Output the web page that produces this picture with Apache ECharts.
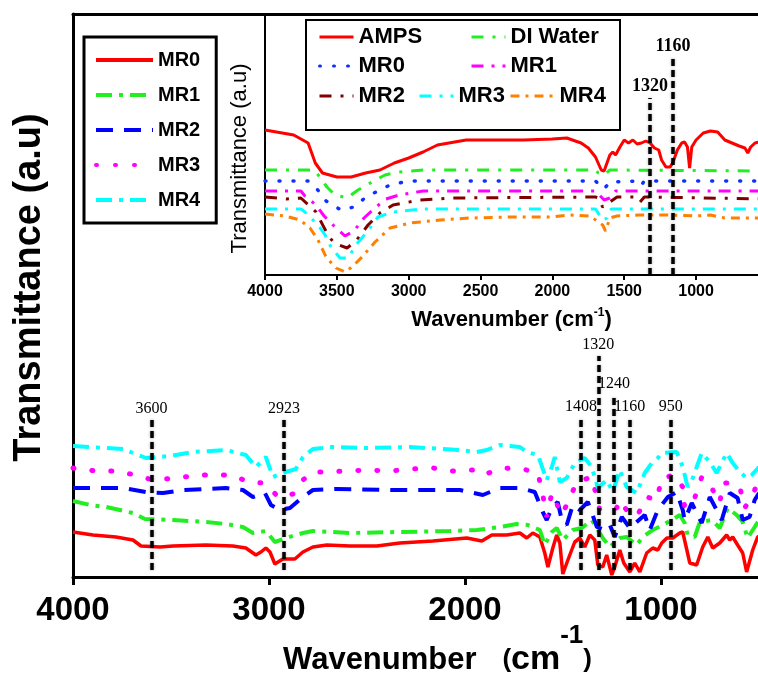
<!DOCTYPE html>
<html><head><meta charset="utf-8">
<script src="https://cdn.jsdelivr.net/npm/echarts@6/dist/echarts.min.js"></script>
<style>html,body{margin:0;padding:0;background:#fff}#c{width:758px;height:677px}</style>
</head><body><div id="c"></div>
<script>
// ---------- DATA (wavenumber cm-1, transmittance a.u.) ----------
const mainNames = ['MR0','MR1','MR2','MR3','MR4'];
const mainMR0 = [[4000,4.5],[3898,4.2],[3781,4.0],[3694,3.7],[3653,3.1],[3556,3.0],[3490,3.1],[3322,3.2],[3184,3.1],[3118,2.9],[3067,2.2],[3041,2.5],[3016,2.9],[2995,2.5],[2970,1.3],[2929,1.8],[2868,1.8],[2827,2.5],[2776,3.0],[2705,3.2],[2587,3.1],[2450,3.1],[2332,3.4],[2164,3.6],[1991,3.9],[1914,3.6],[1863,4.2],[1787,4.2],[1720,4.4],[1685,3.9],[1654,4.4],[1618,4.0],[1593,2.4],[1577,1.0],[1552,2.9],[1532,4.2],[1516,3.4],[1501,0.3],[1475,1.7],[1440,3.5],[1414,3.9],[1389,3.0],[1363,4.2],[1338,3.7],[1322,1.2],[1297,1.0],[1277,2.2],[1251,0.2],[1236,1.0],[1210,2.7],[1190,1.4],[1159,0.5],[1134,1.4],[1108,0.5],[1073,2.4],[1042,2.9],[1016,2.7],[996,3.4],[970,3.9],[940,3.9],[904,4.4],[889,4.5],[868,2.7],[853,1.4],[818,1.2],[787,3.0],[761,4.0],[736,2.9],[700,3.4],[665,4.2],[649,3.7],[634,4.0],[609,3.2],[583,2.4],[563,0.5],[532,2.7],[507,4.0],[480,4.2]];
const mainMR1 = [[4000,7.6],[3913,7.2],[3831,7.0],[3694,6.4],[3633,5.8],[3490,5.7],[3322,5.5],[3220,5.3],[3133,5.0],[3082,4.4],[3016,4.6],[2970,3.5],[2914,3.9],[2827,4.4],[2776,4.6],[2587,4.4],[2332,4.5],[2077,4.6],[1940,4.7],[1822,5.0],[1736,5.3],[1679,5.2],[1618,4.7],[1593,3.2],[1557,4.5],[1532,4.9],[1501,3.7],[1450,4.7],[1404,4.9],[1353,5.7],[1322,4.7],[1297,3.9],[1261,3.0],[1210,3.9],[1175,4.0],[1124,3.2],[1093,4.0],[1042,4.7],[991,5.2],[946,5.7],[904,6.2],[879,5.4],[864,4.2],[828,4.0],[802,5.5],[741,5.7],[700,4.9],[659,6.9],[614,6.2],[583,5.5],[558,3.9],[522,5.0],[500,5.7]];
const mainMR2 = [[4000,8.9],[3745,8.9],[3628,8.5],[3541,8.4],[3439,8.7],[3220,8.9],[3133,8.7],[3082,8.0],[3021,8.4],[2990,7.2],[2944,6.7],[2893,6.9],[2827,8.0],[2776,8.7],[2654,8.8],[2368,8.7],[2026,8.7],[1909,8.2],[1822,8.9],[1720,8.9],[1644,8.5],[1603,6.5],[1583,5.7],[1557,6.9],[1527,7.5],[1506,5.7],[1481,5.2],[1450,7.2],[1414,6.7],[1373,7.5],[1327,5.0],[1287,4.7],[1261,5.2],[1236,4.0],[1200,6.0],[1159,4.9],[1124,5.5],[1083,6.2],[1057,4.7],[1016,6.7],[965,8.0],[920,8.5],[889,6.7],[879,5.7],[843,7.4],[818,6.4],[792,5.4],[751,8.0],[716,6.7],[690,5.7],[649,8.4],[609,7.9],[583,5.7],[548,6.0],[522,7.7],[500,8.4]];
const mainMR3 = [[4000,10.9],[3882,10.6],[3781,10.6],[3684,10.2],[3592,9.7],[3475,9.9],[3352,10.2],[3184,10.2],[3108,9.5],[3031,9.4],[2990,8.8],[2955,8.0],[2878,8.3],[2827,9.7],[2776,10.5],[2725,10.5],[2603,10.6],[2501,10.7],[2383,10.6],[2271,10.8],[2164,10.9],[2062,10.6],[1960,10.7],[1909,10.2],[1807,10.9],[1705,10.8],[1628,10.4],[1603,8.2],[1583,6.0],[1557,8.4],[1506,6.2],[1465,7.9],[1430,9.5],[1353,10.0],[1312,6.7],[1271,6.9],[1226,6.9],[1210,7.7],[1159,6.2],[1119,6.2],[1073,8.0],[1022,7.7],[996,9.9],[930,10.2],[889,9.0],[879,6.9],[828,7.9],[792,10.0],[741,8.9],[700,7.4],[685,9.4],[644,9.4],[598,9.0],[573,6.9],[548,7.7],[522,8.7],[500,9.7]];
const mainMR4 = [[4000,13.1],[3831,12.9],[3745,12.8],[3628,11.9],[3505,12.1],[3388,12.5],[3220,12.7],[3118,12.2],[3067,11.0],[3016,12.0],[2980,10.0],[2914,10.5],[2863,10.8],[2827,12.0],[2776,12.8],[2674,13.0],[2501,12.9],[2281,13.0],[2026,12.7],[1940,12.5],[1889,12.7],[1822,13.2],[1720,13.0],[1685,12.5],[1628,12.2],[1583,9.7],[1557,11.0],[1542,12.0],[1516,9.5],[1481,9.9],[1440,11.4],[1389,11.9],[1353,11.0],[1322,8.9],[1277,9.7],[1246,8.5],[1210,10.7],[1175,9.0],[1124,8.4],[1083,10.4],[1047,11.4],[1016,11.9],[996,12.4],[920,12.5],[889,11.0],[864,9.0],[838,9.9],[792,12.4],[751,11.5],[716,10.4],[665,12.4],[634,11.4],[598,10.5],[563,9.9],[537,10.2],[500,11.0]];

const insetNames = ['AMPS','DI Water','MR0','MR1','MR2','MR3','MR4'];
const inAMPS = [[4000,14.5],[3800,14.0],[3700,13.2],[3650,11.2],[3600,10.2],[3500,9.8],[3400,9.8],[3300,10.2],[3200,10.5],[3100,11.2],[3000,11.7],[2900,12.3],[2800,13.0],[2600,13.5],[2400,13.5],[2200,13.5],[2000,13.6],[1900,13.7],[1800,13.2],[1750,12.7],[1700,11.8],[1660,10.5],[1640,10.4],[1600,12.0],[1580,12.3],[1560,12.0],[1530,12.8],[1500,13.5],[1470,13.2],[1440,13.5],[1410,13.1],[1380,13.2],[1350,13.4],[1320,13.2],[1290,12.7],[1260,12.5],[1240,11.5],[1210,10.8],[1180,10.8],[1160,11.3],[1130,12.5],[1100,13.2],[1080,13.3],[1060,12.8],[1045,10.7],[1030,12.8],[1000,13.5],[950,14.2],[900,14.4],[850,14.3],[800,13.5],[750,13.2],[700,12.9],[660,12.7],[640,12.2],[620,12.8],[590,13.2],[560,13.3],[500,13.3]];
const inWater = [[4000,10.5],[3700,10.5],[3650,10.4],[3569,8.8],[3513,8.0],[3429,7.7],[3353,8.5],[3255,9.3],[3165,10.0],[3074,10.3],[2900,10.5],[1700,10.5],[1680,10.2],[1640,10.0],[1600,10.5],[500,10.4]];
const inMR0 = [[4000,9.4],[3700,9.4],[3638,8.6],[3575,7.4],[3471,6.5],[3381,6.8],[3297,7.8],[3214,8.4],[3130,9.0],[3000,9.4],[1700,9.4],[1640,8.6],[1600,9.3],[1400,9.4],[1380,9.0],[1360,9.4],[500,9.4]];
const inMR1 = [[4000,8.4],[3750,8.4],[3722,7.9],[3645,7.0],[3589,5.9],[3527,5.0],[3443,3.9],[3381,4.4],[3311,5.7],[3227,6.8],[3158,7.6],[3067,8.0],[2900,8.4],[1700,8.4],[1640,7.5],[1600,7.7],[1560,8.4],[500,8.4]];
const inMR2 = [[4000,7.8],[3850,7.6],[3750,7.7],[3645,6.3],[3562,4.0],[3520,3.2],[3429,2.7],[3367,3.4],[3283,5.0],[3200,6.2],[3109,7.0],[2921,7.5],[2700,7.7],[1700,7.8],[1680,7.7],[1650,6.8],[1610,7.2],[1580,7.5],[1550,7.8],[1420,7.8],[1390,7.3],[1360,7.8],[500,7.6]];
const inMR3 = [[4000,6.6],[3750,6.6],[3722,6.3],[3631,5.0],[3582,4.0],[3541,2.8],[3478,1.7],[3422,1.7],[3367,3.0],[3297,4.2],[3214,5.8],[3109,6.3],[2900,6.6],[1700,6.6],[1650,5.5],[1620,5.7],[1590,6.6],[500,6.6]];
const inMR4 = [[4000,6.1],[3861,5.9],[3756,5.5],[3687,4.7],[3631,3.5],[3575,1.8],[3506,0.7],[3443,0.3],[3394,0.8],[3325,1.8],[3234,3.3],[3130,4.7],[2991,5.2],[2782,5.5],[2573,5.7],[2295,5.8],[2016,5.8],[1877,6.0],[1738,5.9],[1650,5.0],[1630,4.4],[1600,5.7],[1550,5.9],[1400,6.0],[1200,6.0],[1000,5.9],[900,6.0],[800,5.7],[500,5.7]];

const mainPeaks = [3600, 2923, 1408, 1320, 1240, 1160, 950];
const insetPeaks = [1320, 1160];
const mainTicks = [4000, 3000, 2000, 1000];
const insetTicks = [4000, 3500, 3000, 2500, 2000, 1500, 1000];

// ---------- STYLE ----------
const mainData = [mainMR0, mainMR1, mainMR2, mainMR3, mainMR4];
const mainStyle = [
  {color:'#ff0000', type:'solid', width:3.5},
  {color:'#22ee22', type:[16,7,4,7], width:4},
  {color:'#0000ff', type:[17,11], width:4},
  {color:'#ff00ff', type:[1,18], width:5, cap:'round'},
  {color:'#00ffff', type:[16,7,4,7], width:4}
];
const insetData = [inAMPS, inWater, inMR0, inMR1, inMR2, inMR3, inMR4];
const insetStyle = [
  {color:'#ff0000', type:'solid', width:3},
  {color:'#22ee22', type:[12,9,3,9], width:3},
  {color:'#1030ff', type:[1,13], width:3.5, cap:'round'},
  {color:'#ff00ff', type:[12,8,3,8], width:3},
  {color:'#800000', type:[12,9,3,9], width:3},
  {color:'#00ffff', type:[12,8,3,8], width:3},
  {color:'#ff8000', type:[9,6,3,6], width:3}
];
const mainPeakTop = {3600:15.7, 2923:15.7, 1408:15.9, 1320:22.1, 1240:18.2, 1160:15.9, 950:15.9};
const insetPeakTop = {1320:17.7, 1160:21.7};

const sans = 'Liberation Sans, Arial, sans-serif';
const serif = 'Liberation Serif, Times New Roman, serif';
const chart = echarts.init(document.getElementById('c'), null, {renderer:'canvas'});

const series = [];
mainData.forEach((d, i) => {
  const s = {
    name: mainNames[i], type:'line', xAxisIndex:0, yAxisIndex:0, data:d,
    symbol:'none', smooth:false, silent:true,
    lineStyle: Object.assign({}, mainStyle[i]),
    itemStyle: {color: mainStyle[i].color}, z: 3
  };
  if (i === 0) {
    s.markLine = {
      symbol:['none','none'], silent:true, animation:false,
      lineStyle:{color:'#000', width:3.5, type:[7,4], shadowBlur:3, shadowColor:'rgba(0,0,0,0.35)'},
      label:{show:true, position:'end', distance:3, color:'#000', fontFamily:serif, fontSize:16, formatter: p => String(p.data.peak)},
      data: mainPeaks.map(w => [{coord:[w, 0.7], peak:w}, {coord:[w, mainPeakTop[w]], peak:w}])
    };
  }
  series.push(s);
});
insetData.forEach((d, i) => {
  const s = {
    name: 'i:' + insetNames[i], type:'line', xAxisIndex:2, yAxisIndex:1, data:d,
    symbol:'none', silent:true,
    lineStyle: Object.assign({}, insetStyle[i]),
    itemStyle: {color: insetStyle[i].color}, z: 3
  };
  if (i === 0) {
    s.markLine = {
      symbol:['none','none'], silent:true, animation:false,
      lineStyle:{color:'#000', width:3.5, type:[7,4], shadowBlur:3, shadowColor:'rgba(0,0,0,0.35)'},
      label:{show:true, position:'end', distance:3, color:'#000', fontFamily:serif, fontWeight:'bold', fontSize:18, formatter: p => String(p.data.peak)},
      data: insetPeaks.map(w => [{coord:[w, 0], peak:w}, {coord:[w, insetPeakTop[w]], peak:w}])
    };
  }
  series.push(s);
});

// inset legend item placement: [icon left x, centre y, icon width]
const insetLegendPos = [[318,37,34],[470,37,34],[318,66,34],[470,66,34],[318,96,34],[418,96,34],[509,96,44]];
const legends = [{
  left:84, top:37, orient:'vertical', selectedMode:false,
  data: mainNames, itemWidth:57, itemHeight:14, itemGap:15,
  padding:[13,16,13,10], borderColor:'#000', borderWidth:3, backgroundColor:'#fff',
  textStyle:{fontFamily:sans, fontWeight:'bold', fontSize:20, color:'#000'},
  lineStyle:{width:4}, itemStyle:{opacity:0}
}];
insetNames.forEach((n, i) => {
  const p = insetLegendPos[i];
  legends.push({
    left:p[0], top:p[1]-11, padding:0, selectedMode:false,
    data:['i:' + n], itemWidth:p[2], itemHeight:14,
    formatter: name => name.replace('i:', ''),
    textStyle:{fontFamily:sans, fontWeight:'bold', fontSize:22, lineHeight:22, color:'#000'},
    lineStyle:{width:3}, itemStyle:{opacity:0}
  });
});

// visible ranges (right edge of picture cuts the spectra)
const mainMin = 505, insetMin = 569;
const plain = v => String(v);

const option = {
  animation:false,
  backgroundColor:'#fff',
  graphic:[{type:'rect', z:1, shape:{x:306, y:20, width:314, height:110}, style:{fill:'#fff', stroke:'#000', lineWidth:2}}],
  grid:[
    {left:73, top:14, right:0, bottom:100, show:false, outerBoundsMode:'none', containLabel:false},
    {left:265, top:14, right:0, bottom:402, show:false, outerBoundsMode:'none', containLabel:false}
  ],
  xAxis:[
    {gridIndex:0, type:'value', inverse:true, min:mainMin, max:4000,
     axisLine:{onZero:false, lineStyle:{color:'#000', width:3}},
     axisTick:{length:8, customValues:mainTicks, lineStyle:{color:'#000', width:3}},
     axisLabel:{fontFamily:sans, fontWeight:'bold', fontSize:33, color:'#000', margin:17, customValues:mainTicks, formatter:plain},
     splitLine:{show:false},
     name:'{a|Wavenumber   }{p|(}{c|cm}{s|-1}{p|)}', nameLocation:'middle', nameGap:46, nameMoveOverlap:false,
     nameTextStyle:{padding:[0,0,0,44], rich:{
       a:{fontFamily:sans, fontWeight:'bold', fontSize:31, color:'#000'},
       c:{fontFamily:sans, fontWeight:'bold', fontSize:34, color:'#000'},
       p:{fontFamily:sans, fontWeight:'bold', fontSize:26, color:'#000'},
       s:{fontFamily:sans, fontWeight:'bold', fontSize:26, color:'#000', padding:[0,0,48,0]}
     }}
    },
    {gridIndex:0, type:'value', inverse:true, min:mainMin, max:4000, position:'top',
     axisLine:{onZero:false, lineStyle:{color:'#000', width:3}},
     axisTick:{show:false}, axisLabel:{show:false}, splitLine:{show:false}
    },
    {gridIndex:1, type:'value', inverse:true, min:insetMin, max:4000,
     axisLine:{onZero:false, lineStyle:{color:'#000', width:2}},
     axisTick:{length:5, customValues:insetTicks, lineStyle:{color:'#000', width:2}},
     axisLabel:{fontFamily:sans, fontWeight:'bold', fontSize:16, color:'#000', margin:9, customValues:insetTicks, formatter:plain},
     splitLine:{show:false},
     name:'{a|Wavenumber (cm}{s|-1}{a|)}', nameLocation:'middle', nameGap:32,
     nameTextStyle:{rich:{
       a:{fontFamily:sans, fontWeight:'bold', fontSize:22, color:'#000'},
       s:{fontFamily:sans, fontWeight:'bold', fontSize:12, color:'#000', padding:[0,0,14,0]}
     }}
    }
  ],
  yAxis:[
    {gridIndex:0, type:'value', min:0, max:56.3,
     axisLine:{show:true, onZero:false, lineStyle:{color:'#000', width:3}},
     axisTick:{show:false}, axisLabel:{show:false}, splitLine:{show:false},
     name:'Transmittance (a.u)', nameLocation:'middle', nameGap:24,
     nameTextStyle:{fontFamily:sans, fontWeight:'bold', fontSize:38, color:'#000', padding:[0,0,0,16]}
    },
    {gridIndex:1, type:'value', min:0, max:26.1,
     axisLine:{show:true, onZero:false, lineStyle:{color:'#000', width:2}},
     axisTick:{show:false}, axisLabel:{show:false}, splitLine:{show:false},
     name:'Transmittance (a.u)', nameLocation:'middle', nameGap:14,
     nameTextStyle:{fontFamily:sans, fontSize:22, color:'#000', padding:[0,28,0,0]}
    }
  ],
  legend: legends,
  series: series
};
chart.setOption(option);
</script>
</body></html>
